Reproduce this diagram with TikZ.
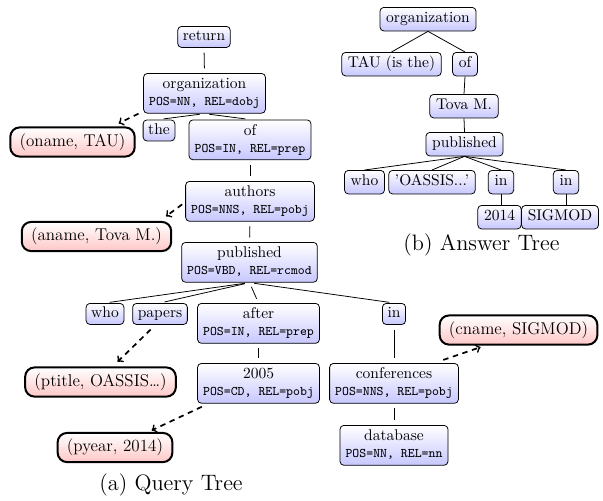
\documentclass[tikz,border=0pt]{standalone}
\newcommand\ttsm{\fontsize{8.5}{10.7}\selectfont\ttfamily}
\newcommand\twol[2]{\rule{0pt}{7pt}#1\\{\ttsm\rule[-2pt]{0pt}{2pt}#2}}
\tikzset{
  qn/.style={draw, line width=0.5pt, rounded corners=2.5pt, top color=white, bottom color=blue!22,
    inner xsep=3.3pt, inner ysep=2.2pt, text height=7pt, text depth=2.2pt, font=\fontsize{10}{12}\selectfont, anchor=north},
  qtwo/.style={draw, line width=0.5pt, rounded corners=2.5pt, top color=white, bottom color=blue!22,
    inner xsep=3.6pt, inner ysep=3pt, align=center, font=\fontsize{10}{10.7}\selectfont, anchor=north},
  an/.style={qn, inner xsep=4pt, inner ysep=3pt},
  val/.style={draw, line width=1.3pt, rounded corners=6pt, top color=white, bottom color=red!22,
    inner xsep=6pt, inner ysep=4pt, text height=8pt, text depth=2.8pt, font=\fontsize{11}{13}\selectfont},
  tedge/.style={line width=0.5pt, shorten >=3pt, shorten <=3pt},
  aedge/.style={line width=0.5pt},
  varrow/.style={->, line width=1.1pt, dash pattern=on 3.5pt off 3pt},
  captxt/.style={inner sep=0pt, font=\fontsize{14.4}{17}\selectfont}
}
\begin{document}
\begin{tikzpicture}[x=0.645pt, y=-0.645pt]
\useasboundingbox (0,0) rectangle (603,500);
% ---------- Query tree ----------
\node[qn] (ret) at (204,26) {return};
\node[qtwo] (org) at (204.5,73) {\twol{organization}{POS=NN, REL=dobj}};
\node[qn] (the) at (159,119.5) {the};
\node[qtwo] (qof) at (250,119.5) {\twol{of}{POS=IN, REL=prep}};
\node[qtwo] (auth) at (250,181) {\twol{authors}{POS=NNS, REL=pobj}};
\node[qtwo] (pub) at (249.5,242) {\twol{published}{POS=VBD, REL=rcmod}};
\node[qn] (who) at (105,303) {who};
\node[qn] (pap) at (160,303) {papers};
\node[qtwo] (aft) at (258.5,303) {\twol{after}{POS=IN, REL=prep}};
\node[qn] (qin) at (394,303) {in};
\node[qtwo] (y2005) at (258.5,363) {\twol{2005}{POS=CD, REL=pobj}};
\node[qtwo] (conf) at (394,363) {\twol{conferences}{POS=NNS, REL=pobj}};
\node[qtwo] (db) at (394,425) {\twol{database}{POS=NN, REL=nn}};
% value nodes
\node[val] (oname) at (72.5,142) {(oname, TAU)};
\node[val] (aname) at (96.5,236.5) {(aname, Tova M.)};
\node[val] (ptitle) at (100.5,382) {(ptitle, OASSIS\ldots)};
\node[val] (pyear) at (115,447.5) {(pyear, 2014)};
\node[val] (cname) at (518.5,330) {(cname, SIGMOD)};
% tree edges
\draw[tedge] (ret.south) -- (org.north);
\draw[tedge] (org.south) -- (the.north);
\draw[tedge] (org.south) -- (qof.north);
\draw[tedge] (qof.south) -- (auth.north);
\draw[tedge] (auth.south) -- (pub.north);
\draw[tedge] (pub.south) -- (who.north);
\draw[tedge] (pub.south) -- (pap.north);
\draw[tedge] (pub.south) -- (aft.north);
\draw[tedge] (pub.south) -- (qin.north);
\draw[tedge] (aft.south) -- (y2005.north);
\draw[tedge] (qin.south) -- (conf.north);
\draw[tedge] (conf.south) -- (db.north);
% dashed arrows
\draw[varrow] ([xshift=-3pt]org.south west) -- ([xshift=-11pt,yshift=2pt]oname.north east);
\draw[varrow] ([xshift=-2pt,yshift=-2pt]auth.west) -- ([xshift=-4pt,yshift=3pt]aname.north east);
\draw[varrow] ([xshift=-6pt,yshift=-3pt]pap.south) -- ([xshift=11pt,yshift=3pt]ptitle.north);
\draw[varrow] ([xshift=3pt,yshift=-2pt]y2005.south west) -- ([xshift=-14pt,yshift=1pt]pyear.north east);
\draw[varrow] ([xshift=-10pt,yshift=2pt]conf.north east) -- ([xshift=27pt,yshift=-1pt]cname.south west);
\node[captxt] (capa) at (171,485) {(a) Query Tree};
% ---------- Answer tree ----------
\node[an] (ao) at (428,7) {organization};
\node[an] (atau) at (391.5,52) {TAU (is the)};
\node[an] (aof) at (465,52) {of};
\node[an] (atova) at (464,94) {Tova M.};
\node[an] (apub) at (464.5,132) {published};
\node[an] (awho) at (364.5,170) {who};
\node[an] (aoas) at (432,170) {'OASSIS...'};
\node[an] (ain1) at (501,170) {in};
\node[an] (ain2) at (566,170) {in};
\node[an] (a2014) at (499.5,205) {2014};
\node[an] (asig) at (560,205) {SIGMOD};
\draw[aedge] (ao.south) -- (atau.north);
\draw[aedge] (ao.south) -- (aof.north);
\draw[aedge] (aof.south) -- (atova.north);
\draw[aedge] (atova.south) -- (apub.north);
\draw[aedge] (apub.south) -- (awho.north);
\draw[aedge] (apub.south) -- (aoas.north);
\draw[aedge] (apub.south) -- (ain1.north);
\draw[aedge] (apub.south) -- (ain2.north);
\draw[aedge] (ain1.south) -- (ain1.south |- a2014.north);
\draw[aedge] (ain2.south) -- (ain2.south |- asig.north);
\node[captxt] (capb) at (481.5,245) {(b) Answer Tree};
\end{tikzpicture}
\end{document}
